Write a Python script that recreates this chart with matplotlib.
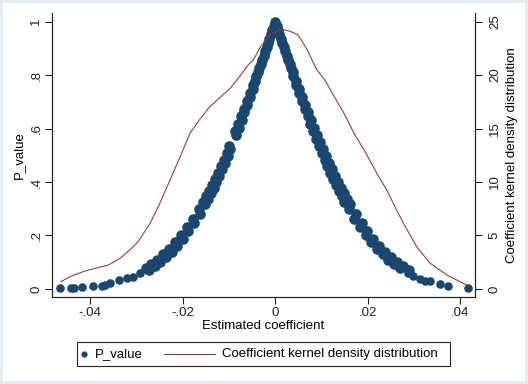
import numpy as np
import matplotlib
matplotlib.use("Agg")
import matplotlib.pyplot as plt
from matplotlib.lines import Line2D
from matplotlib.patches import Rectangle

plt.rcParams['font.family'] = ['Liberation Sans', 'DejaVu Sans']

# scatter: estimated coefficient vs p-value
left_coef = [0.0, -0.00032, -0.00060, -0.00095, -0.00121, -0.00159, -0.00181, -0.00223, -0.00242, -0.00286,
             -0.00302, -0.00350, -0.00362, -0.00413, -0.00423, -0.00477, -0.00483, -0.00541, -0.00544, -0.00604,
             -0.00604, -0.00668, -0.00664, -0.00731, -0.00725, -0.00795, -0.00785, -0.00859, -0.00846,
             -0.00986, -0.00966, -0.01049, -0.01027, -0.01113, -0.01087, -0.01177, -0.01148, -0.01240, -0.01208,
             -0.01304, -0.01268, -0.01367, -0.01329, -0.01431, -0.01389, -0.01495, -0.01450, -0.01558, -0.01510,
             -0.01654, -0.01631, -0.01781, -0.01752, -0.01908, -0.01872, -0.02035, -0.01993, -0.02162, -0.02114,
             -0.02290, -0.02235, -0.02417, -0.02356, -0.02544, -0.02476, -0.02671, -0.02597, -0.02798, -0.02718]
left_p = [1.000, 0.984, 0.968, 0.952, 0.936, 0.920, 0.904, 0.889, 0.873, 0.857,
          0.841, 0.826, 0.810, 0.795, 0.779, 0.764, 0.749, 0.734, 0.719, 0.704,
          0.689, 0.674, 0.660, 0.646, 0.631, 0.617, 0.603, 0.589, 0.575,
          0.535, 0.522, 0.509, 0.497, 0.484, 0.472, 0.459, 0.447, 0.435, 0.424,
          0.412, 0.401, 0.390, 0.379, 0.368, 0.358, 0.347, 0.337, 0.327, 0.317,
          0.298, 0.280, 0.263, 0.246, 0.230, 0.215, 0.201, 0.187, 0.174, 0.162,
          0.150, 0.139, 0.129, 0.119, 0.110, 0.101, 0.093, 0.085, 0.078, 0.072]

right_coef = [0.00031, 0.00064, 0.00092, 0.00129, 0.00153, 0.00193, 0.00214, 0.00258, 0.00275, 0.00322,
              0.00337, 0.00386, 0.00398, 0.00451, 0.00459, 0.00515, 0.00520, 0.00580, 0.00581, 0.00644,
              0.00643, 0.00708, 0.00704, 0.00773, 0.00765, 0.00837, 0.00826, 0.00902, 0.00887, 0.00966,
              0.00949, 0.01030, 0.01010, 0.01095, 0.01071, 0.01159, 0.01132, 0.01224, 0.01193, 0.01288,
              0.01255, 0.01352, 0.01316, 0.01417, 0.01377, 0.01481, 0.01438, 0.01546, 0.01499, 0.01610,
              0.01591, 0.01739, 0.01714, 0.01868, 0.01836, 0.01996, 0.01958, 0.02125, 0.02081, 0.02254,
              0.02203, 0.02383, 0.02326, 0.02512, 0.02448, 0.02640, 0.02570, 0.02769, 0.02693, 0.02898]
right_p = [0.984, 0.968, 0.952, 0.936, 0.920, 0.904, 0.889, 0.873, 0.857, 0.841,
           0.826, 0.810, 0.795, 0.779, 0.764, 0.749, 0.734, 0.719, 0.704, 0.689,
           0.674, 0.660, 0.646, 0.631, 0.617, 0.603, 0.589, 0.575, 0.562, 0.549,
           0.535, 0.522, 0.509, 0.497, 0.484, 0.472, 0.459, 0.447, 0.435, 0.424,
           0.412, 0.401, 0.390, 0.379, 0.368, 0.358, 0.347, 0.337, 0.327, 0.317,
           0.298, 0.280, 0.263, 0.246, 0.230, 0.215, 0.201, 0.187, 0.174, 0.162,
           0.150, 0.139, 0.129, 0.119, 0.110, 0.101, 0.093, 0.085, 0.078, 0.072]

tail_coef = [-0.04649, -0.04417, -0.04346, -0.04166, -0.03942, -0.03747, -0.03676, -0.03568,
             -0.03366, -0.03193, -0.03079, -0.02919, -0.02740, -0.02700, -0.02560, -0.02380,
             0.02882, 0.02990, 0.03135, 0.03243, 0.03351, 0.03568, 0.03747, 0.04158]
tail_p = [0.0026, 0.0026, 0.0037, 0.0063, 0.0123, 0.0123, 0.0150, 0.0235,
          0.0325, 0.0411, 0.0460, 0.0586, 0.0735, 0.0834, 0.1020, 0.1210,
          0.0610, 0.0486, 0.0374, 0.0310, 0.0288, 0.0176, 0.0123, 0.0050]

# kernel density of the coefficient (right axis)
kd_x = [-0.0463, -0.0443, -0.0415, -0.0389, -0.0360, -0.0335, -0.0315, -0.0296, -0.0270, -0.0249,
        -0.0227, -0.0205, -0.0184, -0.0162, -0.0141, -0.0119, -0.0097, -0.0076, -0.0058, -0.0047,
        -0.0032, -0.0011, 0.0011, 0.0032, 0.0050, 0.0069, 0.0090, 0.0108, 0.0125, 0.0148,
        0.0170, 0.0195, 0.0220, 0.0242, 0.0260, 0.0278, 0.0306, 0.0335, 0.0371, 0.0414]
kd_y = [0.68, 1.15, 1.62, 1.93, 2.24, 2.87, 3.60, 4.42, 6.14, 8.01,
        10.19, 12.36, 14.55, 15.90, 17.04, 17.90, 18.76, 19.90, 20.95, 21.40,
        22.60, 23.74, 24.30, 24.10, 23.74, 22.40, 20.50, 19.50, 18.20, 16.50,
        14.60, 12.80, 10.80, 9.20, 7.60, 6.10, 3.95, 2.41, 1.31, 0.37]

navy = '#1a476f'
maroon = '#90353b'
fs = 9.5

W, H = 528, 384
fig = plt.figure(figsize=(W / 100, H / 100), dpi=100)
fig.patch.set_facecolor('white')
fig.patch.set_edgecolor('#e4ecef')
fig.patch.set_linewidth(3)
ax = fig.add_axes([52 / W, 1 - 297 / H, 423 / W, 284 / H])
ax2 = ax.twinx()

# dense middle of the cloud drawn a bit fatter so it reads as one band
ax.scatter(left_coef + right_coef, left_p + right_p, s=58, color=navy, linewidths=0, zorder=3)
ax.scatter(tail_coef, tail_p, s=38, color=navy, linewidths=0, zorder=3)
ax2.plot(kd_x, kd_y, color=maroon, lw=0.75)

ax.set_xlim(-0.0482, 0.0432)
ax.set_ylim(-0.030, 1.032)
ax2.set_ylim(-0.75, 25.8)

ax.set_xticks([-0.04, -0.02, 0, 0.02, 0.04])
ax.set_xticklabels(['-.04', '-.02', '0', '.02', '.04'])
ax.set_yticks([0, 0.2, 0.4, 0.6, 0.8, 1])
ax.set_yticklabels(['0', '.2', '.4', '.6', '.8', '1'], rotation=90, va='center')
ax2.set_yticks([0, 5, 10, 15, 20, 25])
ax2.set_yticklabels(['0', '5', '10', '15', '20', '25'], rotation=90, va='center')

for a in (ax, ax2):
    a.spines['top'].set_visible(False)
    for s in a.spines.values():
        s.set_linewidth(0.8)
        s.set_color('#222222')
    a.tick_params(direction='out', length=5, width=0.8, labelsize=fs, colors='#222222')
ax.tick_params(axis='y', pad=2)
ax.tick_params(axis='x', pad=2)
ax2.tick_params(axis='y', pad=5)

ax.set_xlabel('Estimated coefficient', fontsize=fs, labelpad=1)
ax.set_ylabel('P_value', fontsize=fs, labelpad=4)
ax2.set_ylabel('Coefficient kernel density distribution', fontsize=fs, labelpad=4)

# legend drawn by hand to match the compact Stata layout
ly = 1 - 354 / H
fig.add_artist(Rectangle((77 / W, 1 - 366 / H), 373 / W, 24 / H, transform=fig.transFigure,
                         facecolor='white', edgecolor='#222222', lw=0.8))
fig.add_artist(Line2D([83.5 / W], [ly], marker='o', ls='none', color=navy, markersize=4.5,
                      markeredgewidth=0, transform=fig.transFigure))
fig.text(95 / W, ly, 'P_value', fontsize=fs, va='center', ha='left')
fig.add_artist(Line2D([164 / W, 215 / W], [ly, ly], color=maroon, lw=0.75, transform=fig.transFigure))
fig.text(222.5 / W, ly, 'Coefficient kernel density distribution', fontsize=fs, va='center', ha='left')

fig.savefig('out.png', dpi=100)
